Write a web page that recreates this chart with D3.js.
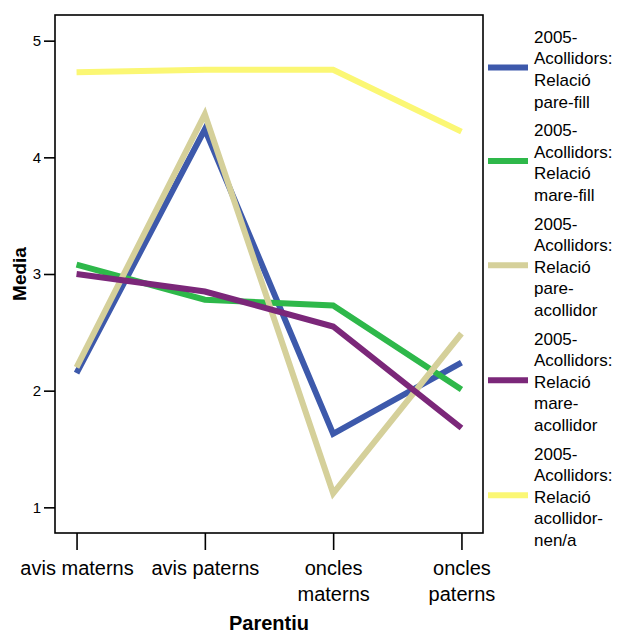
<!DOCTYPE html>
<html>
<head>
<meta charset="utf-8">
<script src="https://cdn.jsdelivr.net/npm/d3@7"></script>
<style>
  html, body { margin: 0; padding: 0; background: #fff; }
  svg { display: block; }
  text { font-family: "Liberation Sans", Arial, Helvetica, sans-serif; fill: #000; }
</style>
</head>
<body>
<svg id="chart" width="618" height="633"></svg>
<script>
// ---------- DATA ----------
const categories = ["avis materns", "avis paterns", "oncles materns", "oncles paterns"];

const seriesNames = [
  "2005-Acollidors: Relació pare-fill",
  "2005-Acollidors: Relació mare-fill",
  "2005-Acollidors: Relació pare-acollidor",
  "2005-Acollidors: Relació mare-acollidor",
  "2005-Acollidors: Relació acollidor-nen/a"
];
const seriesLabelLines = [
  ["2005-", "Acollidors:", "Relació", "pare-fill"],
  ["2005-", "Acollidors:", "Relació", "mare-fill"],
  ["2005-", "Acollidors:", "Relació", "pare-", "acollidor"],
  ["2005-", "Acollidors:", "Relació", "mare-", "acollidor"],
  ["2005-", "Acollidors:", "Relació", "acollidor-", "nen/a"]
];

const pareFill      = [2.15, 4.24, 1.63, 2.24];
const mareFill      = [3.08, 2.78, 2.73, 2.01];
const pareAcollidor = [2.20, 4.37, 1.12, 2.49];
const mareAcollidor = [3.00, 2.85, 2.55, 1.68];
const acollidorNen  = [4.73, 4.75, 4.75, 4.22];

const seriesValues = [pareFill, mareFill, pareAcollidor, mareAcollidor, acollidorNen];
const seriesColors = ["#3d59ab", "#2eb84a", "#d5d09a", "#7b2779", "#fbf774"];

const yTicks = [1, 2, 3, 4, 5];
const yDomain = [0.78, 5.22];
const xTitle = "Parentiu";
const yTitle = "Media";

// ---------- LAYOUT ----------
const svg = d3.select("#chart");
const plot = { left: 55, top: 15, right: 483, bottom: 533 };

const x = d3.scalePoint()
  .domain(categories)
  .range([plot.left, plot.right])
  .padding(0.168);

const y = d3.scaleLinear()
  .domain(yDomain)
  .range([plot.bottom, plot.top]);

// ---------- LINES ----------
const line = d3.line()
  .x((d, i) => x(categories[i]))
  .y(d => y(d));

const gLines = svg.append("g");
seriesValues.forEach((vals, i) => {
  gLines.append("path")
    .datum(vals)
    .attr("d", line)
    .attr("fill", "none")
    .attr("stroke", seriesColors[i])
    .attr("stroke-width", 6)
    .attr("stroke-linejoin", "miter")
    .attr("stroke-miterlimit", 10)
    .attr("stroke-linecap", "butt");
});

// ---------- FRAME ----------
svg.append("rect")
  .attr("x", plot.left)
  .attr("y", plot.top)
  .attr("width", plot.right - plot.left)
  .attr("height", plot.bottom - plot.top)
  .attr("fill", "none")
  .attr("stroke", "#000")
  .attr("stroke-width", 1.6);

// ---------- Y AXIS ----------
const yAxis = d3.axisLeft(y)
  .tickValues(yTicks)
  .tickSize(11)
  .tickPadding(3)
  .tickFormat(d3.format("d"));

const gy = svg.append("g")
  .attr("transform", `translate(${plot.left},0)`)
  .call(yAxis);
gy.select(".domain").remove();
gy.selectAll(".tick line").attr("stroke", "#000").attr("stroke-width", 1.6);
gy.selectAll(".tick text")
  .style("font-family", '"Liberation Sans", Arial, sans-serif')
  .style("font-size", "15px")
  .attr("fill", "#000");

// ---------- X AXIS ----------
const xAxis = d3.axisBottom(x)
  .tickSize(17)
  .tickPadding(6);

const gx = svg.append("g")
  .attr("transform", `translate(0,${plot.bottom})`)
  .call(xAxis);
gx.select(".domain").remove();
gx.selectAll(".tick line").attr("stroke", "#000").attr("stroke-width", 1.6);

const step = x.step();
gx.selectAll(".tick text").each(function (d) {
  const t = d3.select(this);
  t.text(null)
    .attr("y", null)
    .attr("dy", null)
    .style("font-family", '"Liberation Sans", Arial, sans-serif')
    .style("font-size", "20px")
    .attr("fill", "#000");
  // wrap words to the category step width
  const words = d.split(" ");
  const lines = [];
  let cur = [];
  const probe = t.append("tspan");
  words.forEach(w => {
    const test = cur.concat([w]).join(" ");
    probe.text(test);
    if (cur.length && probe.node().getComputedTextLength() > step - 4) {
      lines.push(cur.join(" "));
      cur = [w];
    } else {
      cur.push(w);
    }
  });
  if (cur.length) lines.push(cur.join(" "));
  probe.remove();
  lines.forEach((ln, k) => {
    t.append("tspan")
      .attr("x", 0)
      .attr("y", 42 + k * 25.7)
      .text(ln);
  });
});

// ---------- AXIS TITLES ----------
svg.append("text")
  .attr("x", (plot.left + plot.right) / 2)
  .attr("y", 630)
  .attr("text-anchor", "middle")
  .style("font-size", "20px")
  .style("font-weight", "bold")
  .text(xTitle);

svg.append("text")
  .attr("transform", `translate(26,${(plot.top + plot.bottom) / 2}) rotate(-90)`)
  .attr("text-anchor", "middle")
  .style("font-size", "19px")
  .style("font-weight", "bold")
  .text(yTitle);

// ---------- LEGEND ----------
const legend = svg.append("g");
const lineH = 21.6;
const blockGap = 7;
let baseline = 42.7;
seriesLabelLines.forEach((lines, i) => {
  const g = legend.append("g").attr("class", "legend-item").attr("data-name", seriesNames[i]);
  const firstBase = baseline;
  const lastBase = baseline + (lines.length - 1) * lineH;
  const centerY = (firstBase + lastBase) / 2 - 6 - 1.5;
  g.append("line")
    .attr("x1", 488).attr("x2", 528)
    .attr("y1", centerY).attr("y2", centerY)
    .attr("stroke", seriesColors[i])
    .attr("stroke-width", 6);
  const t = g.append("text")
    .style("font-size", "17px");
  lines.forEach((ln, k) => {
    t.append("tspan")
      .attr("x", 534)
      .attr("y", firstBase + k * lineH)
      .text(ln);
  });
  baseline = lastBase + lineH + blockGap;
});
</script>
</body>
</html>
